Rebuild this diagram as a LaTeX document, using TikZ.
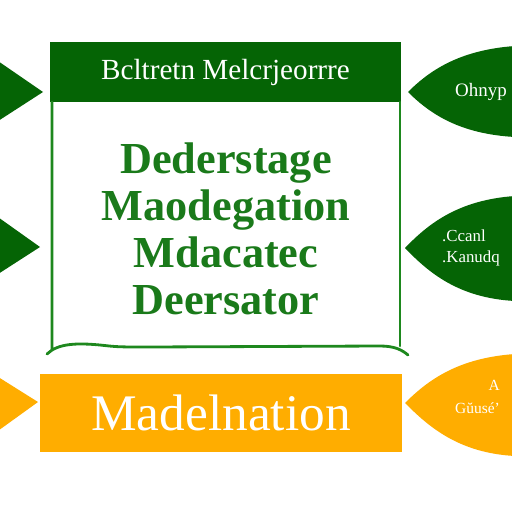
\documentclass[tikz,border=0pt]{standalone}
\usepackage{fontspec}
\setmainfont{Liberation Serif}
\usetikzlibrary{positioning}
\definecolor{headgreen}{HTML}{056405}
\definecolor{linegreen}{HTML}{1E881E}
\definecolor{textgreen}{HTML}{1A7A1A}
\definecolor{flagorange}{HTML}{FFAD00}

\begin{document}
\begin{tikzpicture}[x=0.5mm, y=0.5mm,
  head/.style={fill=headgreen, text=white, minimum width=175.5mm, minimum height=30mm,
               inner sep=0pt, font=\fontsize{41.5}{44}\selectfont},
  base/.style={fill=flagorange, text=white, minimum width=181mm, minimum height=39mm,
               inner sep=0pt, font=\fontsize{73}{76}\selectfont},
  leaftext/.style={text=white, inner sep=0pt, font=\fontsize{27}{30}\selectfont},
  frame/.style={draw=linegreen, line width=4pt, line cap=round, line join=round}
]
\useasboundingbox (0,0) rectangle (512,-512);
\clip (0,0) rectangle (512,-512);
\fill[white] (0,0) rectangle (512,-512);

% left pointers
\fill[headgreen] (-5,-59) -- (43,-92) -- (-5,-123) -- cycle;
\fill[headgreen] (-5,-215) -- (40,-247) -- (-5,-276) -- cycle;
\fill[flagorange] (-5,-375) -- (38,-402) -- (-5,-433) -- cycle;

% right leaves
\fill[headgreen] (408,-92) .. controls (430,-70) and (460,-50) .. (515,-46)
  -- (515,-137) .. controls (460,-134) and (430,-114) .. (408,-92);
\fill[headgreen] (405,-248) .. controls (428,-224) and (458,-200) .. (515,-196)
  -- (515,-301) .. controls (458,-298) and (428,-272) .. (405,-248);
\fill[flagorange] (405,-403) .. controls (428,-380) and (458,-358) .. (515,-354)
  -- (515,-456) .. controls (458,-453) and (428,-426) .. (405,-403);

% main frame
\node[head] (title) at (225.5,-72) {Bcltretn Melcrjeorrre};
\draw[frame] (52,-102) -- (52,-350) -- (47,-354)
  .. controls (58,-343) and (78,-343) .. (100,-345)
  .. controls (118,-347) .. (150,-347) -- (380,-346)
  .. controls (395,-346) and (402,-350) .. (408,-355);
\draw[frame] (400,-102) -- (400,-346);
\node[text=textgreen, align=center, inner sep=0pt,
      font=\fontsize{63}{67}\selectfont\bfseries] (body) at (226,-229)
  {Dederstage\\Maodegation\\Mdacatec\\Deersator};

% bottom bar
\node[base] (bar) at (221,-413) {Madelnation};

% leaf labels
\node[leaftext, anchor=west] (lone) at (455,-92) {Ohnyp};
\node[leaftext, anchor=west, align=left, font=\fontsize{24}{30}\selectfont] (ltwo) at (442,-248)
  {.Ccanl\\.Kanudq};
\node[leaftext, anchor=west, align=right, font=\fontsize{22}{34}\selectfont] (lthree) at (455,-397)
  {A\\Gŭusé’};
\end{tikzpicture}
\end{document}
